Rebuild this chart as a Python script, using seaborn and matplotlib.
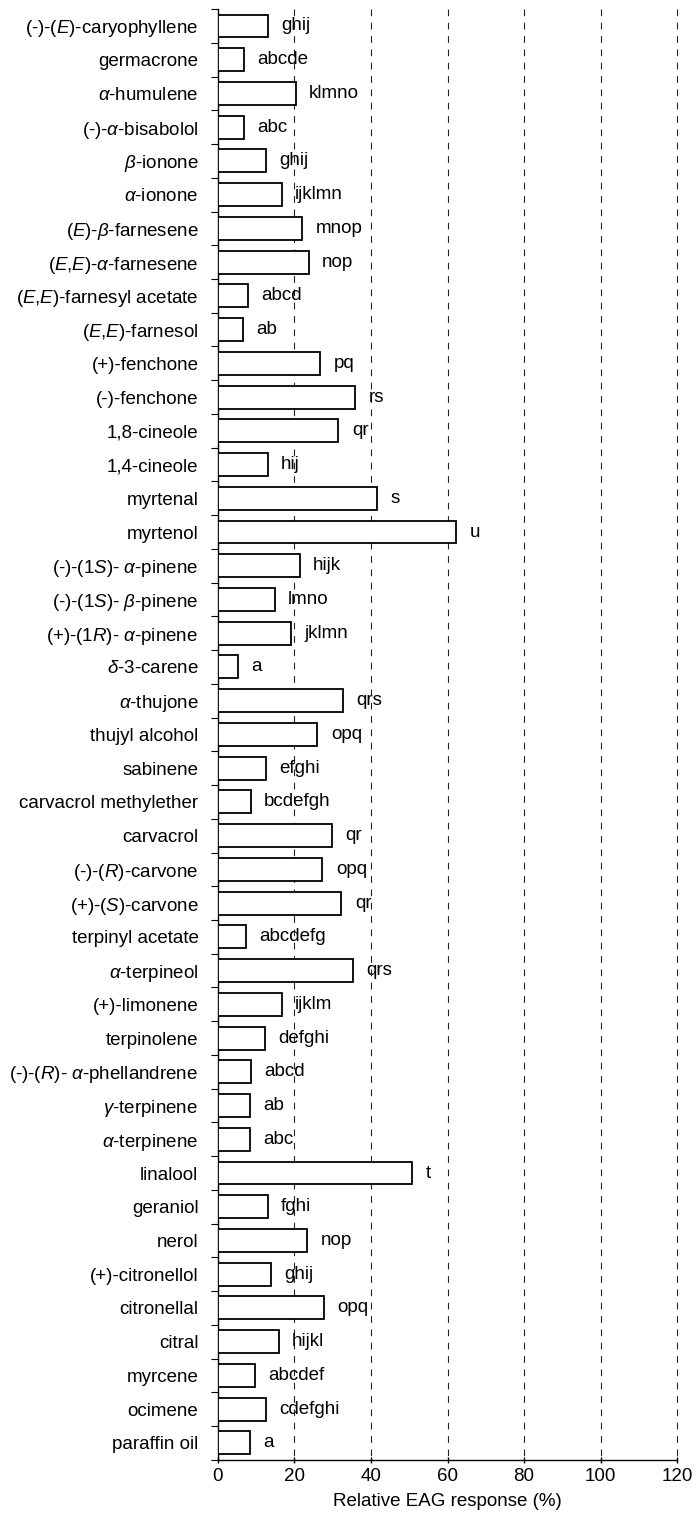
import numpy as np
import pandas as pd
import matplotlib
matplotlib.use("Agg")
import matplotlib.pyplot as plt
import seaborn as sns

# compounds, top to bottom
compounds = [
    "(-)-($\\mathit{E}$)-caryophyllene", "germacrone", "$\\mathit{\\alpha}$-humulene",
    "(-)-$\\mathit{\\alpha}$-bisabolol", "$\\mathit{\\beta}$-ionone", "$\\mathit{\\alpha}$-ionone",
    "($\\mathit{E}$)-$\\mathit{\\beta}$-farnesene", "($\\mathit{E}$,$\\mathit{E}$)-$\\mathit{\\alpha}$-farnesene",
    "($\\mathit{E}$,$\\mathit{E}$)-farnesyl acetate", "($\\mathit{E}$,$\\mathit{E}$)-farnesol", "(+)-fenchone",
    "(-)-fenchone", "1,8-cineole", "1,4-cineole", "myrtenal", "myrtenol",
    "(-)-(1$\\mathit{S}$)- $\\mathit{\\alpha}$-pinene", "(-)-(1$\\mathit{S}$)- $\\mathit{\\beta}$-pinene",
    "(+)-(1$\\mathit{R}$)- $\\mathit{\\alpha}$-pinene", "$\\mathit{\\delta}$-3-carene",
    "$\\mathit{\\alpha}$-thujone", "thujyl alcohol", "sabinene", "carvacrol methylether",
    "carvacrol", "(-)-($\\mathit{R}$)-carvone", "(+)-($\\mathit{S}$)-carvone", "terpinyl acetate",
    "$\\mathit{\\alpha}$-terpineol", "(+)-limonene", "terpinolene",
    "(-)-($\\mathit{R}$)- $\\mathit{\\alpha}$-phellandrene", "$\\mathit{\\gamma}$-terpinene",
    "$\\mathit{\\alpha}$-terpinene", "linalool", "geraniol", "nerol", "(+)-citronellol",
    "citronellal", "citral", "myrcene", "ocimene", "paraffin oil",
]

response = [
    13.0, 6.8, 20.3, 6.8, 12.5, 16.7, 22.1, 23.7, 7.8, 6.5, 26.8,
    35.9, 31.5, 13.0, 41.7, 62.2, 21.4, 14.8, 19.0, 5.2,
    32.6, 26.0, 12.5, 8.6, 29.9, 27.3, 32.3, 7.3,
    35.2, 16.7, 12.2, 8.6, 8.3, 8.3, 50.8, 13.0, 23.4, 13.8,
    27.6, 15.9, 9.6, 12.5, 8.3,
]

letters = [
    "ghij", "abcde", "klmno", "abc", "ghij", "ijklmn", "mnop", "nop", "abcd", "ab", "pq",
    "rs", "qr", "hij", "s", "u", "hijk", "lmno", "jklmn", "a",
    "qrs", "opq", "efghi", "bcdefgh", "qr", "opq", "qr", "abcdefg",
    "qrs", "ijklm", "defghi", "abcd", "ab", "abc", "t", "fghi", "nop", "ghij",
    "opq", "hijkl", "abcdef", "cdefghi", "a",
]

xticks = [0, 20, 40, 60, 80, 100, 120]

df = pd.DataFrame({"compound": compounds, "response": response})

sns.set_style("ticks")
plt.rcParams["font.family"] = ["Liberation Sans", "DejaVu Sans"]
plt.rcParams["mathtext.fontset"] = "custom"
plt.rcParams["mathtext.rm"] = "Liberation Sans"
plt.rcParams["mathtext.it"] = "Liberation Sans:italic"
for k in ["text.color", "axes.labelcolor", "xtick.color", "ytick.color", "axes.edgecolor"]:
    plt.rcParams[k] = "black"

fs = 13.5
n = len(compounds)
fig = plt.figure(figsize=(6.96, 15.19), dpi=100)
ax = fig.add_axes([0.313, 0.039, 0.66, 0.955])

sns.barplot(data=df, x="response", y="compound", orient="h", color="white",
            edgecolor="black", linewidth=1.3, width=0.68, ax=ax, zorder=3)

for i, (v, lab) in enumerate(zip(response, letters)):
    ax.text(v + 3.5, i, lab, ha="left", va="center", fontsize=fs, zorder=4)

ax.set_xlim(0, 120)
ax.set_ylim(n - 0.5, -0.5)
ax.set_xticks(xticks)
# dashed reference lines (drawn by hand so the one at 120 shows too)
ax.vlines(xticks[1:], -0.5, n - 0.5, colors="#222222", linestyles=(0, (6, 6)),
          linewidth=0.8, zorder=0, clip_on=False)
ax.tick_params(axis="x", labelsize=fs, length=5, width=1, direction="inout")

# y ticks sit between bars
ax.tick_params(axis="y", which="major", length=0, labelsize=fs, pad=14)
ax.set_yticks(np.arange(-0.5, n, 1), minor=True)
ax.tick_params(axis="y", which="minor", length=5, width=0.8)

sns.despine(ax=ax)
ax.spines["left"].set_linewidth(1)
ax.spines["bottom"].set_linewidth(1)
ax.set_ylabel("")
ax.set_xlabel("Relative EAG response (%)", fontsize=fs, labelpad=6)

fig.savefig("out.png", dpi=100)
